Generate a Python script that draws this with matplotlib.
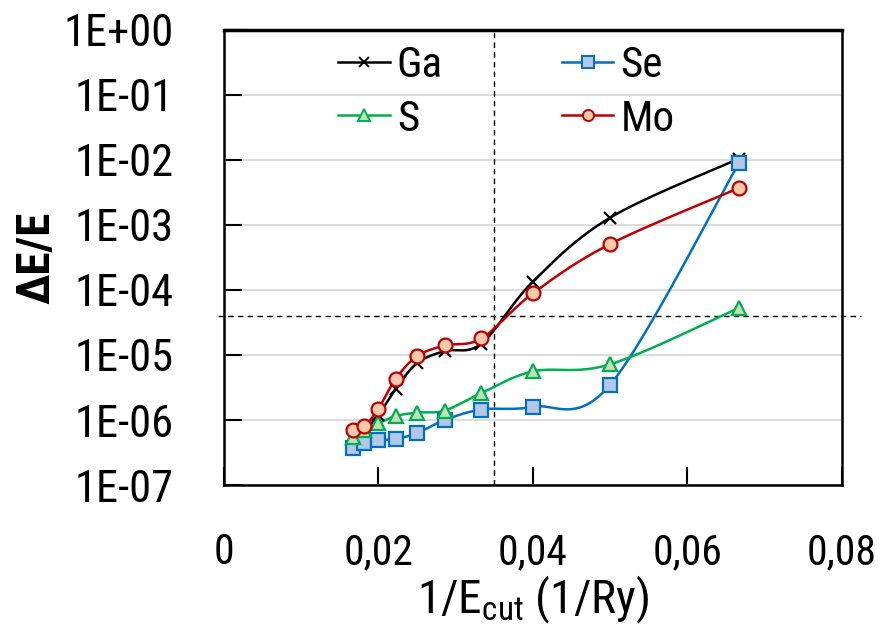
import matplotlib.pyplot as plt
import matplotlib.ticker as mticker
import numpy as np

plt.rcParams['font.family'] = ['Roboto Condensed', 'Roboto', 'DejaVu Sans']

# cutoff energies (Ry) and relative energy error per element
ecut = np.array([60, 55, 50, 45, 40, 35, 30, 25, 20, 15])
inv_ecut = 1.0 / ecut

ga = [5.5e-7, 7.0e-7, 1.2e-6, 3.0e-6, 7.5e-6, 1.15e-5, 1.5e-5, 1.35e-4, 1.3e-3, 1.05e-2]
se = [3.7e-7, 4.4e-7, 4.9e-7, 5.1e-7, 6.3e-7, 1.0e-6, 1.45e-6, 1.6e-6, 3.5e-6, 9.0e-3]
s = [5.5e-7, 7.0e-7, 8.9e-7, 1.15e-6, 1.3e-6, 1.4e-6, 2.6e-6, 5.6e-6, 7.2e-6, 5.3e-5]
mo = [7.0e-7, 8.1e-7, 1.5e-6, 4.3e-6, 9.6e-6, 1.4e-5, 1.8e-5, 8.9e-5, 5.1e-4, 3.7e-3]

x_conv = 0.035
y_conv = 4e-5


def smooth(xs, ys, n=40):
    # bezier smoothing through the points, done in (x, log y)
    p = np.column_stack([np.asarray(xs, float), np.log10(ys)])
    m = len(p)
    out = []
    t = np.linspace(0, 1, n)[:, None]
    for i in range(m - 1):
        p0 = p[max(i - 1, 0)]
        p1, p2 = p[i], p[i + 1]
        p3 = p[min(i + 2, m - 1)]
        c1 = p1 + (p2 - p0) / 6
        c2 = p2 - (p3 - p1) / 6
        seg = ((1 - t) ** 3) * p1 + 3 * ((1 - t) ** 2) * t * c1 + 3 * (1 - t) * t ** 2 * c2 + t ** 3 * p2
        out.append(seg if i == 0 else seg[1:])
    out = np.vstack(out)
    return out[:, 0], 10 ** out[:, 1]


fig = plt.figure(figsize=(8.91, 6.37), dpi=100)
ax = fig.add_axes([0.2514, 0.2386, 0.6936, 0.7144])

series = [
    ('Ga', ga, 'black', 'x', 'black', 9),
    ('Se', se, '#0070C0', 's', '#B4C7E7', 10),
    ('S', s, '#00B050', '^', '#C5E0B4', 10),
    ('Mo', mo, '#C00000', 'o', '#F8CBAD', 10),
]
order = ['Ga', 'S', 'Se', 'Mo']
handles = {}
for name, vals, col, mk, face, ms in series:
    sx, sy = smooth(inv_ecut, vals)
    ax.plot(sx, sy, color=col, lw=1.8, zorder=3)
    ax.plot(inv_ecut, vals, ls='none', marker=mk, ms=ms, mfc=face, mec=col,
            mew=1.6, zorder=4)
    handles[name] = plt.Line2D([], [], color=col, lw=1.8, marker=mk, ms=ms * 0.8,
                               mfc=face, mec=col, mew=1.4)

ax.axvline(x_conv, color='black', lw=1, ls=(0, (4, 3)), zorder=2)
ax.plot([-0.01, 1.03], [y_conv, y_conv], transform=ax.get_yaxis_transform(),
        color='black', lw=1, ls=(0, (4, 3)), clip_on=False, zorder=2)

ax.set_yscale('log')
ax.set_ylim(1e-7, 1)
ax.set_xlim(0, 0.08)
ax.yaxis.set_major_locator(mticker.LogLocator(base=10, numticks=10))
ax.yaxis.set_minor_locator(mticker.NullLocator())
ax.yaxis.set_major_formatter(mticker.FuncFormatter(
    lambda v, p: '1E{:+03d}'.format(int(round(np.log10(v))))))
ax.set_xticks([0, 0.02, 0.04, 0.06, 0.08])
ax.xaxis.set_major_formatter(mticker.FuncFormatter(
    lambda v, p: '0' if v == 0 else '{:.2f}'.format(v).replace('.', ',')))

ax.grid(axis='y', color='#D9D9D9', lw=1.3, zorder=0)
ax.set_axisbelow(True)
for sp in ax.spines.values():
    sp.set_linewidth(1.8)
ax.spines['top'].set_linewidth(2.5)

ax.tick_params(axis='y', direction='in', length=13, width=1.5, labelsize=32, pad=36)
ax.tick_params(axis='x', direction='in', length=13, width=1.5, labelsize=30, pad=34)

ax.set_ylabel('ΔE/E', fontsize=34, fontweight='bold', labelpad=4)
ax.set_xlabel('1/E$_\\mathregular{cut}$ (1/Ry)', fontsize=34, labelpad=0)

ax.legend([handles[k] for k in order], order, ncol=2, loc='upper left',
          bbox_to_anchor=(0.15, 1.015), frameon=False, fontsize=31,
          handlelength=1.2, handletextpad=0.16, labelspacing=0.3,
          columnspacing=2.76, borderaxespad=0.1)

fig.savefig('out.png', dpi=100)
